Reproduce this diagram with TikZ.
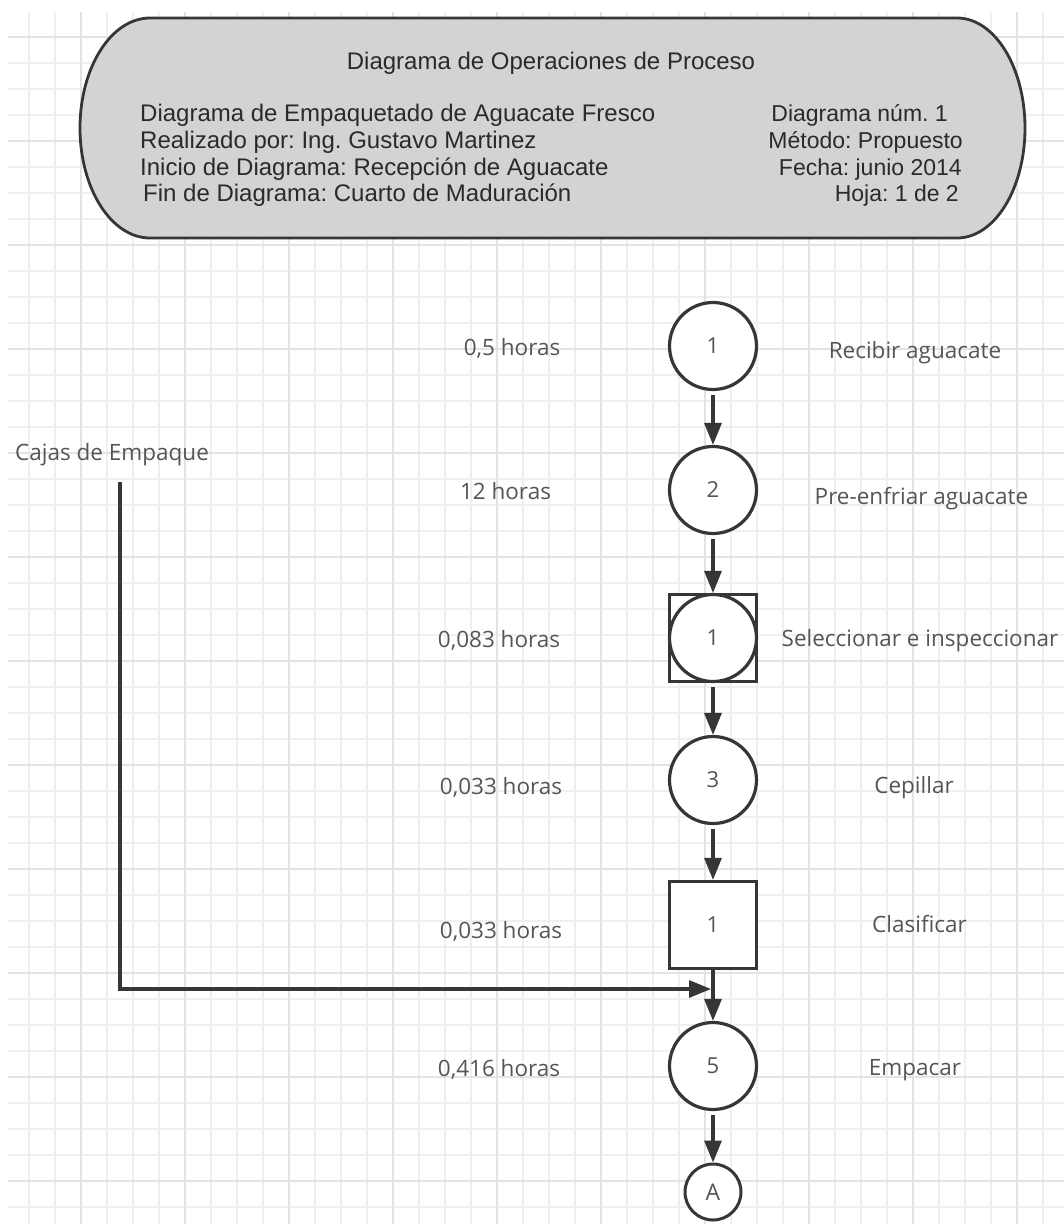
\documentclass[tikz,border=0pt]{standalone}
\usepackage{fontspec}
\setmainfont{Liberation Sans}
\newfontfamily\lblfont{Open Sans}
\usetikzlibrary{arrows.meta}
\frenchspacing
\definecolor{gridminor}{HTML}{EFEFEF}
\definecolor{gridmajor}{HTML}{E3E3E3}
\definecolor{ink}{HTML}{363636}
\definecolor{headfill}{HTML}{D3D3D3}
\definecolor{headtext}{HTML}{2A2A2A}
\definecolor{lblgray}{HTML}{555555}
\begin{document}
\begin{tikzpicture}[x=1pt,y=-1pt,
  opnode/.style={circle, draw=ink, line width=3.2pt, fill=white, minimum size=87pt, inner sep=0pt,
    font=\lblfont\fontsize{22}{22}\selectfont, text=lblgray},
  inspnode/.style={rectangle, draw=ink, line width=3.2pt, fill=white, minimum size=87pt, inner sep=0pt,
    font=\lblfont\fontsize{22}{22}\selectfont, text=lblgray},
  connnode/.style={circle, draw=ink, line width=3pt, fill=white, minimum size=56pt, inner sep=0pt,
    font=\lblfont\fontsize{23}{23}\selectfont, text=lblgray},
  lbl/.style={font=\lblfont\fontsize{22.5}{22.5}\selectfont, text=lblgray, inner sep=0pt, anchor=mid},
  headl/.style={font=\fontsize{24}{24}\selectfont, text=headtext, inner sep=0pt, anchor=base west},
  headr/.style={font=\fontsize{23}{23}\selectfont, text=headtext, inner sep=0pt, anchor=base east},
  flow/.style={draw=ink, line width=3.2pt, -{Triangle[length=22pt,width=17pt]}, shorten <=4pt},
]
\useasboundingbox (0,0) rectangle (1064,1224);
\fill[white] (0,0) rectangle (1064,1224);
% grid
\begin{scope}
\clip (8,12) rectangle (1064,1224);
\foreach \x in {29,55,...,1070} \draw[gridminor, line width=1.5pt] (\x,12) -- (\x,1224);
\foreach \y in {11,37,...,1224} \draw[gridminor, line width=1.5pt] (8,\y) -- (1064,\y);
\foreach \x in {81,185,...,1070} \draw[gridmajor, line width=1.6pt] (\x,12) -- (\x,1224);
\foreach \y in {37,141,...,1224} \draw[gridmajor, line width=1.6pt] (8,\y) -- (1064,\y);
\end{scope}
% header
\draw[draw=ink, fill=headfill, line width=2.8pt]
  (150,18) -- (957,18) arc[start angle=90, end angle=-90, x radius=68pt, y radius=110pt]
  -- (150,238) arc[start angle=270, end angle=90, x radius=70pt, y radius=110pt] -- cycle;
\node[font=\fontsize{24}{24}\selectfont, text=headtext, inner sep=0pt, anchor=base] (htitle) at (551,69) {Diagrama de Operaciones de Proceso};
\node[headl] (hl1) at (140,121.7) {Diagrama de Empaquetado de Aguacate Fresco};
\node[headl] (hl2) at (140,148.3) {Realizado por: Ing. Gustavo Martinez};
\node[headl] (hl3) at (140,175) {Inicio de Diagrama: Recepción de Aguacate};
\node[headl] (hl4) at (143,201.7) {Fin de Diagrama: Cuarto de Maduración};
\node[headr] (hr1) at (948,121.7) {Diagrama núm. 1};
\node[headr] (hr2) at (963,148.3) {Método: Propuesto};
\node[headr] (hr3) at (962,175) {Fecha: junio 2014};
\node[headr] (hr4) at (959,201.7) {Hoja: 1 de 2};
% process nodes
\node[opnode] (o1) at (713,346) {1};
\node[opnode] (o2) at (713,490) {2};
\node[inspnode] (i1) at (713,638) {};
\node[opnode] (i1c) at (713,638) {1};
\node[opnode] (o3) at (713,780) {3};
\node[inspnode] (i2) at (713,925) {1};
\node[opnode] (o5) at (713,1066) {5};
\node[connnode] (ca) at (713,1192) {A};
% connectors
\draw[flow] (o1.south) -- (o2.north);
\draw[flow] (o2.south) -- (i1.north);
\draw[flow] (i1.south) -- (o3.north);
\draw[flow] (o3.south) -- (i2.north);
\draw[flow, shorten <=0pt] (i2.south) -- (o5.north);
\draw[flow] (o5.south) -- (ca.north);
% side material
\node[lbl, anchor=base west] (cajas) at (15,460) {Cajas de Empaque};
\coordinate (cstart) at (120,482);
\coordinate (cend) at (711,989);
\draw[flow, shorten <=0pt] (cstart) |- (cend);
% time labels
\node[lbl] (t1) at (512,353) {0,5 horas};
\node[lbl] (t2) at (505.5,497) {12 horas};
\node[lbl] (t3) at (499,645) {0,083 horas};
\node[lbl] (t4) at (501,792) {0,033 horas};
\node[lbl] (t5) at (501,936) {0,033 horas};
\node[lbl] (t6) at (499,1074) {0,416 horas};
% activity labels
\node[lbl] (a1) at (915,356) {Recibir aguacate};
\node[lbl] (a2) at (921.5,502) {Pre-enfriar aguacate};
\node[lbl] (a3) at (920,644) {Seleccionar e inspeccionar};
\node[lbl] (a4) at (914,791) {Cepillar};
\node[lbl] (a5) at (919.5,930) {Clasificar};
\node[lbl] (a6) at (915,1073) {Empacar};
\end{tikzpicture}
\end{document}
